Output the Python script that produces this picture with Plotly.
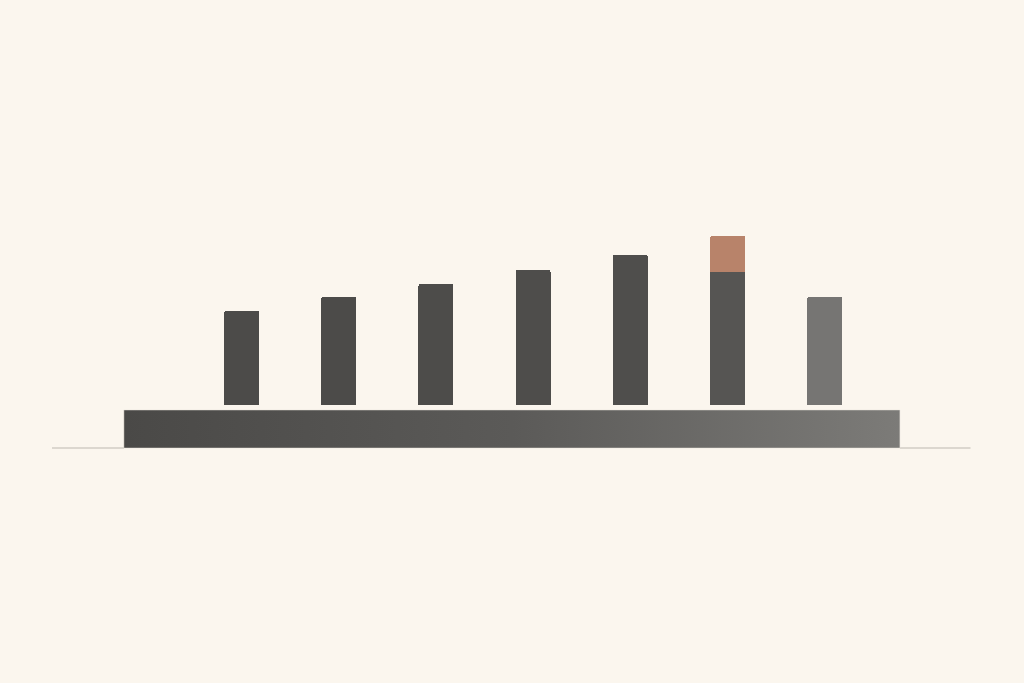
import plotly.graph_objects as go

# bar heights (arbitrary units, 1 unit ~ 2 px)
positions = [1, 2, 3, 4, 5, 6, 7]
base_values = [47, 54, 60.5, 67.5, 75, 66.5, 54]
accent_values = [0, 0, 0, 0, 0, 18, 0]
bar_colors = ['#4c4b49', '#4c4b49', '#4d4c4a', '#4e4d4b', '#4f4e4c', '#565553', '#767573']
accent_color = '#b8836a'

# platform under the bars
platform_left = -0.2099
platform_right = 7.7737
platform_top = -2.5
platform_bottom = -21.5

# thin ground line
ground_left = -0.95
ground_right = 8.5
ground_y = -21.5

bg = '#fbf6ee'

fig = go.Figure()

# ground line either side of the platform
fig.add_trace(go.Scatter(x=[ground_left, platform_left], y=[ground_y, ground_y], mode='lines',
                         line=dict(color='rgba(130,125,118,0.5)', width=1.2), hoverinfo='skip'))
fig.add_trace(go.Scatter(x=[platform_right, ground_right], y=[ground_y, ground_y], mode='lines',
                         line=dict(color='rgba(130,125,118,0.5)', width=1.2), hoverinfo='skip'))

# platform with a left-to-right gradient
fig.add_trace(go.Scatter(
    x=[platform_left, platform_right, platform_right, platform_left, platform_left],
    y=[platform_bottom, platform_bottom, platform_top, platform_top, platform_bottom],
    mode='lines', line=dict(width=0.8, color='rgba(230,225,218,0.6)'),
    fill='toself',
    fillgradient=dict(type='horizontal',
                      colorscale=[[0, '#4a4947'], [0.5, '#5b5a58'], [1, '#7c7b78']]),
    hoverinfo='skip'))

fig.add_trace(go.Bar(x=positions, y=base_values, width=0.36,
                     marker=dict(color=bar_colors, line=dict(width=0)),
                     hoverinfo='skip'))
fig.add_trace(go.Bar(x=positions, y=accent_values, width=0.36,
                     marker=dict(color=accent_color, line=dict(width=0)),
                     hoverinfo='skip'))

fig.update_layout(
    width=1024, height=683,
    margin=dict(l=0, r=0, t=0, b=0),
    paper_bgcolor=bg, plot_bgcolor=bg,
    barmode='stack', barcornerradius=2,
    showlegend=False,
    xaxis=dict(range=[-1.4846, 9.0504], visible=False, fixedrange=True),
    yaxis=dict(range=[-139, 202.5], visible=False, fixedrange=True),
)

# drop the page margin so the figure fills the window
page_fix = ("document.body.style.margin='0';"
            "document.body.style.overflow='hidden';"
            "document.body.style.background='%s';" % bg)

fig.write_html("out.html", config={'displayModeBar': False}, post_script=page_fix)
